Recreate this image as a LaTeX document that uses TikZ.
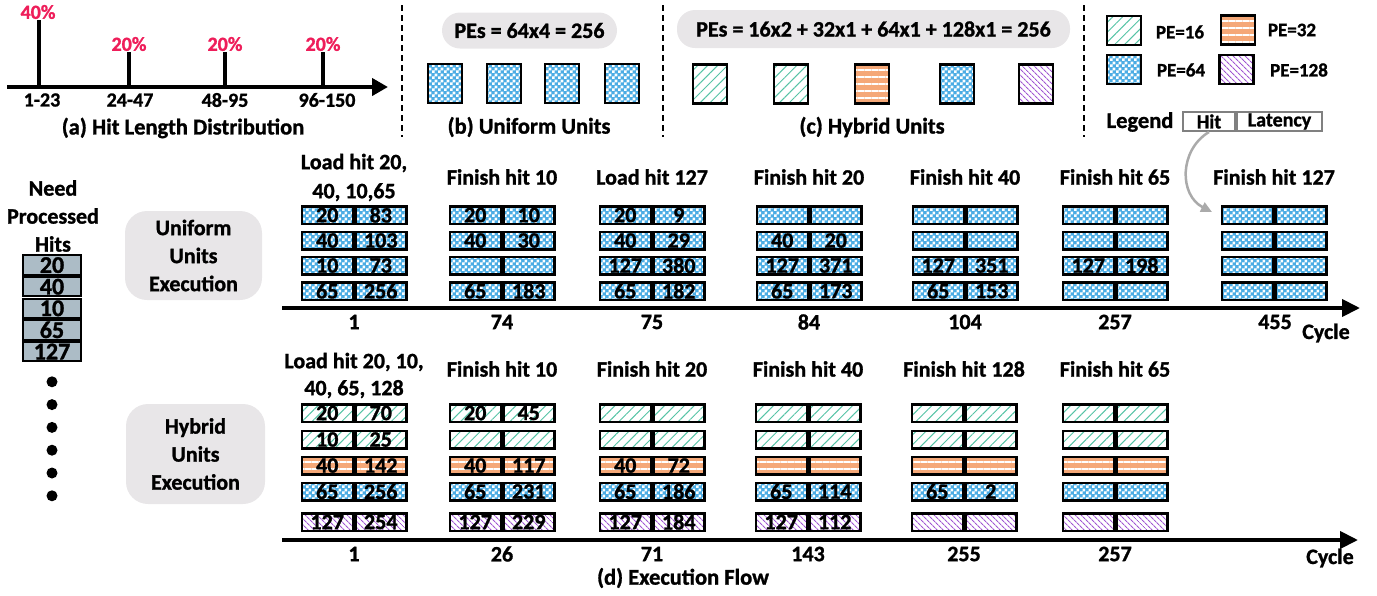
\documentclass[tikz,border=0pt]{standalone}
\usepackage{fontspec}
\setmainfont{Carlito}[BoldFeatures={FakeBold=1.2}]
\usetikzlibrary{arrows.meta,patterns,patterns.meta}

\definecolor{peBlue}{RGB}{75,172,228}
\definecolor{peGreen}{RGB}{85,195,165}
\definecolor{peOrange}{RGB}{245,168,120}
\definecolor{pePurple}{RGB}{160,85,210}
\definecolor{pillGray}{RGB}{232,230,232}
\definecolor{hitGray}{RGB}{172,188,198}
\definecolor{pctRed}{RGB}{238,30,90}
\definecolor{legGray}{RGB}{128,128,128}
\definecolor{arrGray}{RGB}{170,170,170}

\pgfdeclarepatternformonly{checks}{\pgfpointorigin}{\pgfqpoint{6pt}{6pt}}{\pgfqpoint{6pt}{6pt}}{%
  \pgfpathrectangle{\pgfpointorigin}{\pgfqpoint{3pt}{3pt}}%
  \pgfpathrectangle{\pgfqpoint{3pt}{3pt}}{\pgfqpoint{3pt}{3pt}}%
  \pgfusepath{fill}}

\tikzset{
  pe16/.style={pattern={Lines[angle=45,distance=7pt,line width=1pt]}, pattern color=peGreen},
  pe32/.style={preaction={fill=peOrange}, pattern={Lines[angle=0,distance=7pt,line width=2.8pt]}, pattern color=white},
  pe64/.style={preaction={fill=peBlue}, pattern=checks, pattern color=white},
  pe128/.style={pattern={Lines[angle=-45,distance=4pt,line width=1.1pt]}, pattern color=pePurple},
  unitsq/.style={draw, line width=2.5pt, minimum width=34pt, minimum height=39pt, inner sep=0pt},
  legsq/.style={draw, line width=2.5pt, minimum width=34pt, minimum height=29pt, inner sep=0pt},
  cellbox/.style={draw, line width=2.5pt, minimum width=51pt, minimum height=17.5pt, inner sep=0pt,
    font=\bfseries\fontsize{22}{22}\selectfont},
  hitbox/.style={draw, line width=2pt, fill=hitGray, minimum width=58pt, minimum height=19.5pt, inner sep=0pt,
    font=\bfseries\fontsize{24}{24}\selectfont},
  pill/.style={fill=pillGray, rounded corners=18pt, inner sep=0pt, font=\bfseries\fontsize{22}{22}\selectfont},
  grouppill/.style={fill=pillGray, rounded corners=22pt, inner sep=0pt, align=center,
    minimum width=137pt, font=\bfseries\fontsize{22}{28}\selectfont},
  dotmark/.style={circle, fill, inner sep=0pt, minimum size=11pt},
  pctlbl/.style={text=pctRed, inner sep=1pt, font=\bfseries\fontsize{20}{20}\selectfont},
  rnglbl/.style={inner sep=0pt, font=\bfseries\fontsize{20}{20}\selectfont},
  caplbl/.style={inner sep=0pt, font=\bfseries\fontsize{22.5}{22.5}\selectfont},
  stagelbl/.style={inner sep=0pt, align=center, font=\bfseries\fontsize{22}{28}\selectfont},
  cyclbl/.style={inner sep=0pt, font=\bfseries\fontsize{22}{22}\selectfont},
  pelbl/.style={inner sep=0pt, font=\bfseries\fontsize{19}{19}\selectfont},
  legcell/.style={draw=legGray, line width=2pt, minimum width=52pt, minimum height=19pt, inner sep=0pt,
    font=\bfseries\fontsize{20}{20}\selectfont},
  sepline/.style={line width=2.5pt, dash pattern=on 6pt off 4pt},
  spike/.style={line width=3.5pt},
  timeaxis/.style={line width=4pt, -{Triangle[length=18pt,width=17pt]}},
  bendarrow/.style={draw=arrGray, line width=2.5pt, -{Triangle[length=11pt,width=10pt]}},
}

% one unit slot: hit half | latency half, split at x
\newcommand{\unitrow}[6]{%
  \node[cellbox, #4, anchor=east] (#1-h) at (#2,#3) {#5};
  \node[cellbox, #4, anchor=west] (#1-l) at (#2,#3) {#6};
}

\begin{document}
\begin{tikzpicture}[x=1pt, y=-1pt, font=\bfseries]
\useasboundingbox (0,0) rectangle (1377,595);

%% Panel A: hit length distribution
\coordinate (hlA) at (7,87);
\coordinate (hlB) at (388,87);
\draw[line width=4pt, -{Triangle[length=16pt,width=17pt]}] (hlA) -- (hlB);
\node[pctlbl] (p1) at (38,12) {40\%};
\node[pctlbl] (p2) at (129,44) {20\%};
\node[pctlbl] (p3) at (225,44) {20\%};
\node[pctlbl] (p4) at (323,44) {20\%};
\foreach \x [count=\i] in {39,129,225,323} {
  \coordinate (k\i) at (\x,87);
  \draw[spike] (k\i) -- (k\i |- p\i.south);
}
\node[rnglbl] (r1) at (42,100) {1-23};
\node[rnglbl] (r2) at (130,100) {24-47};
\node[rnglbl] (r3) at (225,100) {48-95};
\node[rnglbl] (r4) at (327,100) {96-150};
\node[caplbl] (capa) at (183,128) {(a) Hit Length Distribution};

%% separators
\draw[sepline] (402,5) -- (402,137);
\draw[sepline] (663,5) -- (663,137);
\draw[sepline] (1084,5) -- (1084,137);

%% Panel B: uniform units
\node[pill, minimum width=175pt, minimum height=36pt] (pillb) at (529.5,30.5) {PEs = 64x4 = 256};
\foreach \x [count=\i] in {445,504,562,622}
  \node[unitsq, pe64] (ub\i) at (\x,83.5) {};
\node[caplbl] (capb) at (529,127) {(b) Uniform Units};

%% Panel C: hybrid units
\node[pill, minimum width=393pt, minimum height=38pt] (pillc) at (873.5,29) {PEs = 16x2 + 32x1 + 64x1 + 128x1 = 256};
\foreach \x/\s [count=\i] in {710/pe16, 791/pe16, 872/pe32, 957/pe64, 1036/pe128}
  \node[unitsq, \s] (hc\i) at (\x,84) {};
\node[caplbl] (capc) at (872,127) {(c) Hybrid Units};

%% legend
\node[legsq, pe16] (lg16) at (1124,30.5) {};
\node[pelbl] at (1180,32) {PE=16};
\node[legsq, pe32] (lg32) at (1238,30) {};
\node[pelbl] at (1292,30) {PE=32};
\node[legsq, pe64] (lg64) at (1124,69.5) {};
\node[pelbl] at (1181,70) {PE=64};
\node[legsq, pe128] (lg128) at (1236.5,69.5) {};
\node[pelbl] at (1299,70) {PE=128};
\node[caplbl] (lgword) at (1140,122) {Legend};
\node[legcell, anchor=east] (lghit) at (1236,121.5) {Hit};
\node[legcell, anchor=west, minimum width=85pt] (lglat) at (1236,121.5) {Latency};

%% Panel D: execution flow
\node[stagelbl] (need) at (53,216) {Need\\Processed\\Hits};
\foreach \v [count=\i] in {20,40,10,65,127}
  \node[hitbox] (nh\i) at (52,243.5+21.6*\i) {\v};
\foreach \i in {1,...,6}
  \node[dotmark] (dot\i) at (52,359+22.8*\i) {};

\node[grouppill, minimum height=89pt] (upill) at (193.5,255.5) {Uniform\\Units\\Execution};
\node[grouppill, minimum width=139pt, minimum height=100pt] (hpill) at (195.5,454) {Hybrid\\Units\\Execution};

% uniform timeline
\node[stagelbl, font=\bfseries\fontsize{22}{29}\selectfont] (ut1) at (354,177.5) {Load hit 20,\\40, 10,65};
\foreach \x/\t [count=\i from 2] in {502/Finish hit 10, 652/Load hit 127, 809/Finish hit 20,
    965/Finish hit 40, 1115/Finish hit 65, 1274/Finish hit 127}
  \node[stagelbl] (ut\i) at (\x,177) {\t};
\foreach \c/\x/\ha/\la/\hb/\lb/\hc/\lc/\hd/\ld in {
    1/354/20/83/40/103/10/73/65/256,
    2/502/20/10/40/30/{}/{}/65/183,
    3/652/20/9/40/29/127/380/65/182,
    4/809/{}/{}/40/20/127/371/65/173,
    5/965/{}/{}/{}/{}/127/351/65/153,
    6/1115/{}/{}/{}/{}/127/198/{}/{},
    7/1274/{}/{}/{}/{}/{}/{}/{}/{}} {
  \unitrow{u\c a}{\x}{215}{pe64}{\ha}{\la}
  \unitrow{u\c b}{\x}{240.5}{pe64}{\hb}{\lb}
  \unitrow{u\c c}{\x}{265.5}{pe64}{\hc}{\lc}
  \unitrow{u\c d}{\x}{291}{pe64}{\hd}{\ld}
}
\coordinate (uaxA) at (282,308);
\coordinate (uaxB) at (1360,308);
\draw[timeaxis] (uaxA) -- (uaxB);
\foreach \x/\t [count=\i] in {354/1, 502/74, 652/75, 809/84, 965/104, 1115/257, 1275/455}
  \node[cyclbl] (uc\i) at (\x,322) {\t};
\node[cyclbl] (ucyc) at (1326,333) {Cycle};

% legend pointer
\coordinate (bendend) at (1212,212);
\draw[bendarrow] (lghit.south) .. controls (1179,150) and (1179,195) .. (bendend);

% hybrid timeline
\node[stagelbl, font=\bfseries\fontsize{22}{27}\selectfont] (ht1) at (354,375.5) {Load hit 20, 10,\\40, 65, 128};
\foreach \x/\t [count=\i from 2] in {502/Finish hit 10, 652/Finish hit 20, 808/Finish hit 40,
    964/Finish hit 128, 1115/Finish hit 65}
  \node[stagelbl] (ht\i) at (\x,369) {\t};
\foreach \c/\x/\ha/\la/\hb/\lb/\hc/\lc/\hd/\ld/\he/\le in {
    1/354/20/70/10/25/40/142/65/256/127/254,
    2/502/20/45/{}/{}/40/117/65/231/127/229,
    3/652/{}/{}/{}/{}/40/72/65/186/127/184,
    4/808/{}/{}/{}/{}/{}/{}/65/114/127/112,
    5/964/{}/{}/{}/{}/{}/{}/65/2/{}/{},
    6/1115/{}/{}/{}/{}/{}/{}/{}/{}/{}/{}} {
  \unitrow{h\c a}{\x}{413}{pe16}{\ha}{\la}
  \unitrow{h\c b}{\x}{439.5}{pe16}{\hb}{\lb}
  \unitrow{h\c c}{\x}{465.5}{pe32}{\hc}{\lc}
  \unitrow{h\c d}{\x}{491.5}{pe64}{\hd}{\ld}
  \unitrow{h\c e}{\x}{522}{pe128}{\he}{\le}
}
\coordinate (haxA) at (282,540);
\coordinate (haxB) at (1358,540);
\draw[timeaxis] (haxA) -- (haxB);
\foreach \x/\t [count=\i] in {354/1, 502/26, 652/71, 808/143, 964/255, 1115/257}
  \node[cyclbl] (hc\i) at (\x,554) {\t};
\node[cyclbl] (hcyc) at (1330,558) {Cycle};
\node[caplbl] (capd) at (683,578) {(d) Execution Flow};
\end{tikzpicture}
\end{document}
